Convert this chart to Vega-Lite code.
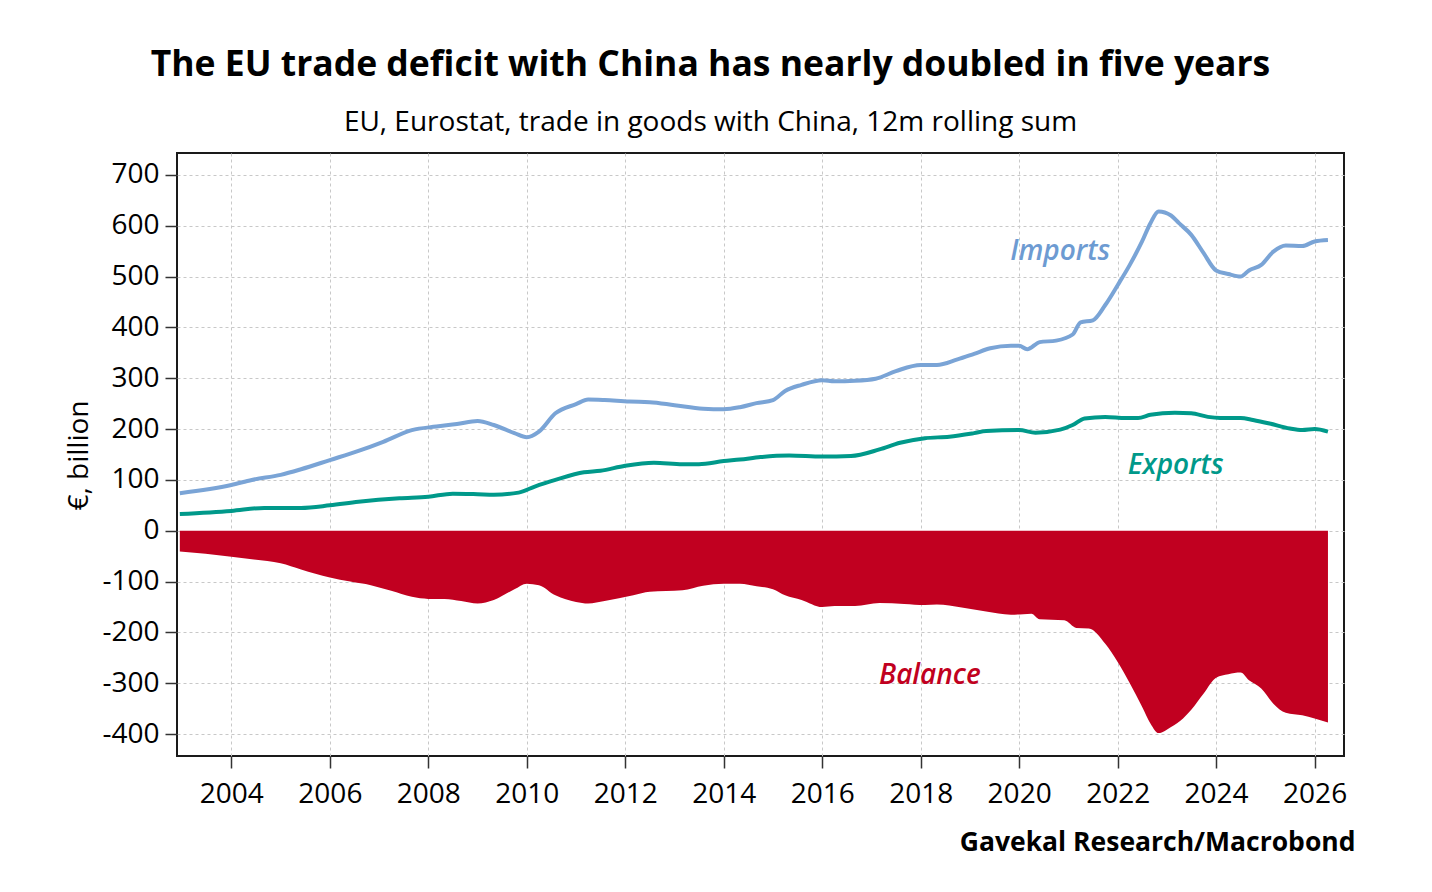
{
  "$schema": "https://vega.github.io/schema/vega-lite/v6.json",
  "width": 1167,
  "height": 603,
  "autosize": {"type": "none"},
  "padding": {"left": 177, "top": 153, "right": 88, "bottom": 136},
  "background": "white",
  "config": {
    "font": "Open Sans",
    "view": {"stroke": "#1a1a1a", "strokeWidth": 2},
    "axis": {
      "domain": false,
      "grid": true,
      "gridColor": "#c8c8c8",
      "gridDash": [3, 3],
      "gridWidth": 1,
      "tickColor": "#333333",
      "tickWidth": 1.5,
      "tickSize": 12,
      "labelFont": "Open Sans",
      "labelFontSize": 28,
      "labelColor": "#000000",
      "titleFont": "Open Sans",
      "titleColor": "#000000"
    }
  },
  "title": {
    "text": "The EU trade deficit with China has nearly doubled in five years",
    "subtitle": "EU, Eurostat, trade in goods with China, 12m rolling sum",
    "anchor": "middle",
    "frame": "group",
    "dx": -50,
    "offset": 16,
    "font": "Open Sans",
    "fontSize": 35.5,
    "fontWeight": "bold",
    "color": "#000000",
    "subtitleFont": "Open Sans",
    "subtitleFontSize": 28,
    "subtitleColor": "#000000",
    "subtitlePadding": 26
  },
  "data": {
    "values": [
      {"date": "2002-12-15", "series": "Imports", "value": 74},
      {"date": "2004-01-01", "series": "Imports", "value": 90},
      {"date": "2004-06-01", "series": "Imports", "value": 100},
      {"date": "2005-01-01", "series": "Imports", "value": 110},
      {"date": "2005-06-01", "series": "Imports", "value": 121},
      {"date": "2006-01-01", "series": "Imports", "value": 139},
      {"date": "2006-08-01", "series": "Imports", "value": 157},
      {"date": "2007-02-01", "series": "Imports", "value": 175},
      {"date": "2007-09-01", "series": "Imports", "value": 198},
      {"date": "2008-03-01", "series": "Imports", "value": 205},
      {"date": "2008-08-01", "series": "Imports", "value": 210},
      {"date": "2009-01-01", "series": "Imports", "value": 216},
      {"date": "2009-05-01", "series": "Imports", "value": 208},
      {"date": "2009-10-01", "series": "Imports", "value": 192},
      {"date": "2010-01-01", "series": "Imports", "value": 184},
      {"date": "2010-04-01", "series": "Imports", "value": 195},
      {"date": "2010-08-01", "series": "Imports", "value": 231},
      {"date": "2011-01-01", "series": "Imports", "value": 249},
      {"date": "2011-04-01", "series": "Imports", "value": 258},
      {"date": "2011-08-01", "series": "Imports", "value": 257},
      {"date": "2012-02-01", "series": "Imports", "value": 254},
      {"date": "2012-07-01", "series": "Imports", "value": 253},
      {"date": "2013-01-01", "series": "Imports", "value": 247},
      {"date": "2013-08-01", "series": "Imports", "value": 240},
      {"date": "2014-01-01", "series": "Imports", "value": 239},
      {"date": "2014-05-01", "series": "Imports", "value": 243},
      {"date": "2014-09-01", "series": "Imports", "value": 251},
      {"date": "2015-01-01", "series": "Imports", "value": 257},
      {"date": "2015-04-01", "series": "Imports", "value": 275},
      {"date": "2015-08-01", "series": "Imports", "value": 287},
      {"date": "2016-01-01", "series": "Imports", "value": 296},
      {"date": "2016-04-01", "series": "Imports", "value": 294},
      {"date": "2016-09-01", "series": "Imports", "value": 295},
      {"date": "2017-02-01", "series": "Imports", "value": 299},
      {"date": "2017-07-01", "series": "Imports", "value": 314},
      {"date": "2018-01-01", "series": "Imports", "value": 326},
      {"date": "2018-05-01", "series": "Imports", "value": 326},
      {"date": "2018-10-01", "series": "Imports", "value": 337},
      {"date": "2019-02-01", "series": "Imports", "value": 348},
      {"date": "2019-06-01", "series": "Imports", "value": 359},
      {"date": "2019-11-01", "series": "Imports", "value": 364},
      {"date": "2020-01-01", "series": "Imports", "value": 364},
      {"date": "2020-03-01", "series": "Imports", "value": 357},
      {"date": "2020-06-01", "series": "Imports", "value": 371},
      {"date": "2020-10-01", "series": "Imports", "value": 374},
      {"date": "2021-02-01", "series": "Imports", "value": 386},
      {"date": "2021-04-01", "series": "Imports", "value": 410},
      {"date": "2021-07-01", "series": "Imports", "value": 414},
      {"date": "2021-10-01", "series": "Imports", "value": 444},
      {"date": "2022-01-01", "series": "Imports", "value": 483},
      {"date": "2022-04-01", "series": "Imports", "value": 523},
      {"date": "2022-07-01", "series": "Imports", "value": 569},
      {"date": "2022-09-01", "series": "Imports", "value": 605},
      {"date": "2022-11-01", "series": "Imports", "value": 628},
      {"date": "2023-02-01", "series": "Imports", "value": 620},
      {"date": "2023-04-01", "series": "Imports", "value": 605},
      {"date": "2023-07-01", "series": "Imports", "value": 582},
      {"date": "2023-10-01", "series": "Imports", "value": 546},
      {"date": "2024-01-01", "series": "Imports", "value": 512},
      {"date": "2024-04-01", "series": "Imports", "value": 505},
      {"date": "2024-07-01", "series": "Imports", "value": 500},
      {"date": "2024-09-01", "series": "Imports", "value": 512},
      {"date": "2024-12-01", "series": "Imports", "value": 523},
      {"date": "2025-03-01", "series": "Imports", "value": 549},
      {"date": "2025-06-01", "series": "Imports", "value": 561},
      {"date": "2025-10-01", "series": "Imports", "value": 560},
      {"date": "2026-01-01", "series": "Imports", "value": 569},
      {"date": "2026-04-10", "series": "Imports", "value": 572},

      {"date": "2002-12-15", "series": "Exports", "value": 33},
      {"date": "2004-01-01", "series": "Exports", "value": 39},
      {"date": "2004-09-01", "series": "Exports", "value": 45},
      {"date": "2005-06-01", "series": "Exports", "value": 45},
      {"date": "2006-01-01", "series": "Exports", "value": 50},
      {"date": "2006-08-01", "series": "Exports", "value": 57},
      {"date": "2007-06-01", "series": "Exports", "value": 64},
      {"date": "2008-01-01", "series": "Exports", "value": 67},
      {"date": "2008-07-01", "series": "Exports", "value": 73},
      {"date": "2009-01-01", "series": "Exports", "value": 72},
      {"date": "2009-05-01", "series": "Exports", "value": 71},
      {"date": "2009-11-01", "series": "Exports", "value": 75},
      {"date": "2010-03-01", "series": "Exports", "value": 87},
      {"date": "2010-08-01", "series": "Exports", "value": 100},
      {"date": "2011-03-01", "series": "Exports", "value": 115},
      {"date": "2011-07-01", "series": "Exports", "value": 118},
      {"date": "2012-01-01", "series": "Exports", "value": 128},
      {"date": "2012-08-01", "series": "Exports", "value": 134},
      {"date": "2013-03-01", "series": "Exports", "value": 131},
      {"date": "2013-07-01", "series": "Exports", "value": 131},
      {"date": "2014-01-01", "series": "Exports", "value": 137},
      {"date": "2014-05-01", "series": "Exports", "value": 140},
      {"date": "2014-10-01", "series": "Exports", "value": 145},
      {"date": "2015-05-01", "series": "Exports", "value": 148},
      {"date": "2016-01-01", "series": "Exports", "value": 146},
      {"date": "2016-08-01", "series": "Exports", "value": 147},
      {"date": "2017-03-01", "series": "Exports", "value": 160},
      {"date": "2017-08-01", "series": "Exports", "value": 173},
      {"date": "2018-02-01", "series": "Exports", "value": 182},
      {"date": "2018-08-01", "series": "Exports", "value": 185},
      {"date": "2019-02-01", "series": "Exports", "value": 192},
      {"date": "2019-05-01", "series": "Exports", "value": 196},
      {"date": "2020-01-01", "series": "Exports", "value": 198},
      {"date": "2020-05-01", "series": "Exports", "value": 193},
      {"date": "2020-11-01", "series": "Exports", "value": 199},
      {"date": "2021-02-01", "series": "Exports", "value": 208},
      {"date": "2021-05-01", "series": "Exports", "value": 221},
      {"date": "2021-10-01", "series": "Exports", "value": 224},
      {"date": "2022-03-01", "series": "Exports", "value": 222},
      {"date": "2022-06-01", "series": "Exports", "value": 222},
      {"date": "2022-09-01", "series": "Exports", "value": 228},
      {"date": "2023-03-01", "series": "Exports", "value": 232},
      {"date": "2023-07-01", "series": "Exports", "value": 231},
      {"date": "2023-11-01", "series": "Exports", "value": 224},
      {"date": "2024-02-01", "series": "Exports", "value": 222},
      {"date": "2024-07-01", "series": "Exports", "value": 222},
      {"date": "2024-10-01", "series": "Exports", "value": 218},
      {"date": "2025-02-01", "series": "Exports", "value": 211},
      {"date": "2025-07-01", "series": "Exports", "value": 201},
      {"date": "2025-10-01", "series": "Exports", "value": 198},
      {"date": "2026-01-01", "series": "Exports", "value": 200},
      {"date": "2026-04-10", "series": "Exports", "value": 195},

      {"date": "2002-12-15", "series": "Balance", "value": -41},
      {"date": "2004-01-01", "series": "Balance", "value": -51},
      {"date": "2004-06-01", "series": "Balance", "value": -56},
      {"date": "2005-01-01", "series": "Balance", "value": -64},
      {"date": "2005-06-01", "series": "Balance", "value": -76},
      {"date": "2006-01-01", "series": "Balance", "value": -92},
      {"date": "2006-06-01", "series": "Balance", "value": -100},
      {"date": "2006-11-01", "series": "Balance", "value": -107},
      {"date": "2007-04-01", "series": "Balance", "value": -118},
      {"date": "2007-09-01", "series": "Balance", "value": -130},
      {"date": "2008-01-01", "series": "Balance", "value": -134},
      {"date": "2008-05-01", "series": "Balance", "value": -134},
      {"date": "2008-09-01", "series": "Balance", "value": -138},
      {"date": "2009-01-01", "series": "Balance", "value": -143},
      {"date": "2009-05-01", "series": "Balance", "value": -136},
      {"date": "2009-10-01", "series": "Balance", "value": -115},
      {"date": "2010-01-01", "series": "Balance", "value": -104},
      {"date": "2010-04-01", "series": "Balance", "value": -107},
      {"date": "2010-08-01", "series": "Balance", "value": -127},
      {"date": "2011-01-01", "series": "Balance", "value": -140},
      {"date": "2011-04-01", "series": "Balance", "value": -143},
      {"date": "2011-08-01", "series": "Balance", "value": -138},
      {"date": "2012-03-01", "series": "Balance", "value": -127},
      {"date": "2012-07-01", "series": "Balance", "value": -120},
      {"date": "2013-03-01", "series": "Balance", "value": -117},
      {"date": "2013-08-01", "series": "Balance", "value": -108},
      {"date": "2014-01-01", "series": "Balance", "value": -104},
      {"date": "2014-05-01", "series": "Balance", "value": -104},
      {"date": "2014-09-01", "series": "Balance", "value": -109},
      {"date": "2015-01-01", "series": "Balance", "value": -115},
      {"date": "2015-04-01", "series": "Balance", "value": -127},
      {"date": "2015-08-01", "series": "Balance", "value": -136},
      {"date": "2016-01-01", "series": "Balance", "value": -150},
      {"date": "2016-04-01", "series": "Balance", "value": -148},
      {"date": "2016-09-01", "series": "Balance", "value": -148},
      {"date": "2017-03-01", "series": "Balance", "value": -142},
      {"date": "2017-09-01", "series": "Balance", "value": -144},
      {"date": "2018-02-01", "series": "Balance", "value": -146},
      {"date": "2018-05-01", "series": "Balance", "value": -145},
      {"date": "2018-11-01", "series": "Balance", "value": -151},
      {"date": "2019-05-01", "series": "Balance", "value": -159},
      {"date": "2019-11-01", "series": "Balance", "value": -165},
      {"date": "2020-02-01", "series": "Balance", "value": -164},
      {"date": "2020-04-01", "series": "Balance", "value": -163},
      {"date": "2020-06-01", "series": "Balance", "value": -174},
      {"date": "2020-12-01", "series": "Balance", "value": -176},
      {"date": "2021-03-01", "series": "Balance", "value": -191},
      {"date": "2021-06-01", "series": "Balance", "value": -192},
      {"date": "2021-10-01", "series": "Balance", "value": -222},
      {"date": "2022-01-01", "series": "Balance", "value": -258},
      {"date": "2022-04-01", "series": "Balance", "value": -300},
      {"date": "2022-07-01", "series": "Balance", "value": -346},
      {"date": "2022-09-01", "series": "Balance", "value": -379},
      {"date": "2022-11-01", "series": "Balance", "value": -398},
      {"date": "2023-02-01", "series": "Balance", "value": -386},
      {"date": "2023-05-01", "series": "Balance", "value": -369},
      {"date": "2023-07-01", "series": "Balance", "value": -352},
      {"date": "2023-10-01", "series": "Balance", "value": -320},
      {"date": "2024-01-01", "series": "Balance", "value": -289},
      {"date": "2024-04-01", "series": "Balance", "value": -282},
      {"date": "2024-07-01", "series": "Balance", "value": -279},
      {"date": "2024-09-01", "series": "Balance", "value": -294},
      {"date": "2024-12-01", "series": "Balance", "value": -310},
      {"date": "2025-03-01", "series": "Balance", "value": -340},
      {"date": "2025-06-01", "series": "Balance", "value": -358},
      {"date": "2025-10-01", "series": "Balance", "value": -363},
      {"date": "2026-01-01", "series": "Balance", "value": -369},
      {"date": "2026-04-10", "series": "Balance", "value": -377}
    ]
  },
  "encoding": {
    "x": {
      "field": "date",
      "type": "temporal",
      "scale": {"domain": ["2002-11-24", "2026-08-07"], "nice": false},
      "axis": {
        "values": ["2004-01-01", "2006-01-01", "2008-01-01", "2010-01-01", "2012-01-01", "2014-01-01", "2016-01-01", "2018-01-01", "2020-01-01", "2022-01-01", "2024-01-01", "2026-01-01"],
        "format": "%Y",
        "labelPadding": 12,
        "title": "Gavekal Research/Macrobond",
        "titleX": 1178,
        "titleY": 94,
        "titleAlign": "right",
        "titleAnchor": null,
        "titleBaseline": "alphabetic",
        "titleFontSize": 26.5,
        "titleFontWeight": "bold"
      }
    },
    "y": {
      "field": "value",
      "type": "quantitative",
      "scale": {"domain": [-443, 743], "nice": false, "zero": false},
      "axis": {
        "values": [-400, -300, -200, -100, 0, 100, 200, 300, 400, 500, 600, 700],
        "labelExpr": "replace(datum.label, '\u2212', '-')",
        "labelPadding": 6,
        "title": "\u20ac, billion",
        "titleFontSize": 28,
        "titleFontWeight": "normal",
        "titleX": -90,
        "titleY": 302,
        "titleAlign": "center",
        "titleAnchor": null,
        "titleBaseline": "alphabetic",
        "titleAngle": 270
      }
    }
  },
  "layer": [
    {
      "transform": [{"filter": "datum.series === 'Balance'"}],
      "mark": {"type": "area", "color": "#c10020", "interpolate": "monotone"},
      "encoding": {"y2": {"datum": 0}}
    },
    {
      "transform": [{"filter": "datum.series === 'Exports'"}],
      "mark": {"type": "line", "color": "#00998a", "strokeWidth": 4, "interpolate": "monotone"}
    },
    {
      "transform": [{"filter": "datum.series === 'Imports'"}],
      "mark": {"type": "line", "color": "#7aa4d6", "strokeWidth": 4, "interpolate": "monotone"}
    },
    {
      "data": {
        "values": [
          {"date": "2020-11-01", "value": 532, "label": "Imports"},
          {"date": "2023-03-07", "value": 112, "label": "Exports"},
          {"date": "2018-03-10", "value": -302, "label": "Balance"}
        ]
      },
      "mark": {"type": "text", "font": "Open Sans", "fontSize": 28, "fontStyle": "italic", "fontWeight": 600, "align": "center", "baseline": "alphabetic"},
      "encoding": {
        "text": {"field": "label"},
        "color": {
          "field": "label",
          "type": "nominal",
          "scale": {"domain": ["Imports", "Exports", "Balance"], "range": ["#6d9bd2", "#00998a", "#c10020"]},
          "legend": null
        }
      }
    }
  ]
}
